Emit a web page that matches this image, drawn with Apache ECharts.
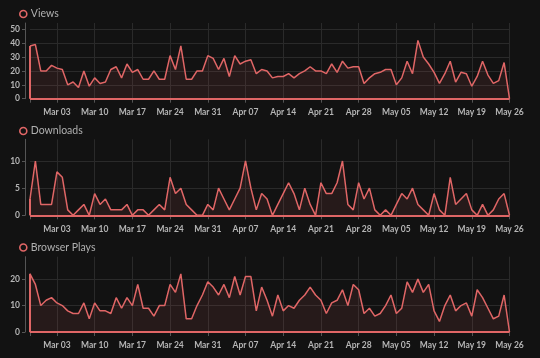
<!DOCTYPE html>
<html><head><meta charset="utf-8">
<script src="https://cdn.jsdelivr.net/npm/echarts@6/dist/echarts.min.js"></script>
<style>html,body{margin:0;padding:0;background:#121212;}#c{width:540px;height:358px;}</style>
</head><body><div id="c"></div>
<script>
// categories: 90 days, 2024-02-27 .. 2024-05-26
const dates = [];
for (let i = 0; i < 90; i++) {
  const d = new Date(Date.UTC(2024, 1, 27 + i));
  dates.push(d.toISOString().slice(0, 10));
}
const monthNames = ['Jan','Feb','Mar','Apr','May','Jun','Jul','Aug','Sep','Oct','Nov','Dec'];

const views = [38,39,20,20,24,22,21,10,12,8,20,9,15,11,12,21,23,15,25,19,21,14,14,20,14,14,31,21,38,14,
  14,20,20,31,29,21,29,16,31,25,27,28,18,21,20,15,16,16,18,15,18,20,23,20,20,18,25,19,27,22,
  23,23,11,15,18,19,21,21,10,15,27,18,42,30,25,19,11,18,27,12,19,18,9,16,27,17,11,13,26,0];
const downloads = [3,10,2,2,2,8,7,1,0,1,2,0,4,2,3,1,1,1,2,0,1,1,0,1,2,1,7,4,5,2,
  1,0,0,2,1,5,3,1,3,5,10,5,1,4,3,0,2,4,6,4,1,5,2,0,6,4,4,6,10,2,
  1,6,3,5,1,0,1,0,2,4,3,5,2,1,0,4,1,0,7,2,3,4,1,0,2,0,1,3,4,0];
const browserPlays = [22,18,10,12,13,11,10,8,7,7,11,5,11,8,8,7,13,9,13,10,18,9,9,6,10,10,18,15,22,5,
  5,10,14,19,17,14,18,13,21,14,21,21,8,17,12,6,14,8,10,9,12,14,17,14,12,7,11,12,16,10,
  18,16,7,9,6,7,10,14,7,9,19,15,20,15,18,8,4,10,14,8,10,11,6,16,13,9,5,6,14,0];

const seriesNames = ['Views', 'Downloads', 'Browser Plays'];
const seriesData = [views, downloads, browserPlays];
const yMax = [54.5, 14, 28.5];
const yInterval = [10, 5, 10];

const RED = '#e06666';
const gridTops = [23, 139.3, 256.7];
const gridHeights = [75.7, 76, 75.3];
const legendTops = [3.5, 120.5, 237];

function isSunday(v) { return new Date(v + 'T00:00:00Z').getUTCDay() === 0; }
function fmtDate(v) {
  const d = new Date(v + 'T00:00:00Z');
  return monthNames[d.getUTCMonth()] + ' ' + String(d.getUTCDate()).padStart(2, '0');
}

const option = {
  backgroundColor: '#121212',
  animation: false,
  textStyle: { fontFamily: 'Lato' },
  legend: seriesNames.map((n, k) => ({
    data: [{ name: n, icon: 'circle', itemStyle: { color: 'transparent', borderColor: RED, borderWidth: 1.6 } }],
    left: 14, top: legendTops[k], itemWidth: 7, itemHeight: 7, itemGap: 4,
    selectedMode: false,
    textStyle: { color: '#b0b0b0', fontSize: 10.5, fontFamily: 'Lato', padding: [0, 0, 0, -1] }
  })),
  grid: gridTops.map((t, k) => ({ left: 30, right: 30.5, top: t, height: gridHeights[k] })),
  xAxis: seriesNames.map((n, k) => ({
    type: 'category', gridIndex: k, data: dates, boundaryGap: false, offset: 4,
    axisLine: { show: true, lineStyle: { color: '#555', width: 1 } },
    axisTick: { show: true, length: 4, lineStyle: { color: '#555' },
      interval: (i, v) => i === 0 || isSunday(v) },
    axisLabel: { color: '#b5b5b5', fontSize: 8.5, fontWeight: 'bold', margin: 5, fontFamily: 'Lato',
      interval: (i, v) => isSunday(v), formatter: fmtDate },
    splitLine: { show: true, lineStyle: { color: '#2a2a2a', width: 1 },
      interval: (i, v) => isSunday(v) }
  })),
  yAxis: seriesNames.map((n, k) => ({
    type: 'value', gridIndex: k, min: 0, max: yMax[k], interval: yInterval[k], offset: 5,
    axisLine: { show: true, lineStyle: { color: '#555' } },
    axisTick: { show: true, length: 3, lineStyle: { color: '#555' } },
    axisLabel: { color: '#b5b5b5', fontSize: 8.5, fontWeight: 'bold', margin: 5, showMaxLabel: false, fontFamily: 'Lato' },
    splitLine: { show: true, showMaxLine: false, lineStyle: { color: '#2a2a2a', width: 1 } }
  })),
  series: seriesData.map((arr, k) => ({
    name: seriesNames[k], type: 'line', xAxisIndex: k, yAxisIndex: k,
    data: arr, symbol: 'none', showSymbol: false,
    lineStyle: { color: RED, width: 1.5 },
    itemStyle: { color: RED },
    areaStyle: { color: 'rgba(224,102,102,0.14)' },
    markLine: {
      silent: true, symbol: 'none', animation: false,
      label: { show: false },
      lineStyle: { color: RED, width: 2, type: 'solid' },
      emphasis: { disabled: true },
      data: [
        [{ coord: [dates[0], 0] }, { coord: [dates[dates.length - 1], 0] }],
        [{ coord: [dates[0], 0] }, { coord: [dates[0], arr[0]] }]
      ]
    }
  }))
};

const chart = echarts.init(document.getElementById('c'), null, { renderer: 'canvas' });
chart.setOption(option);
</script>
</body></html>
